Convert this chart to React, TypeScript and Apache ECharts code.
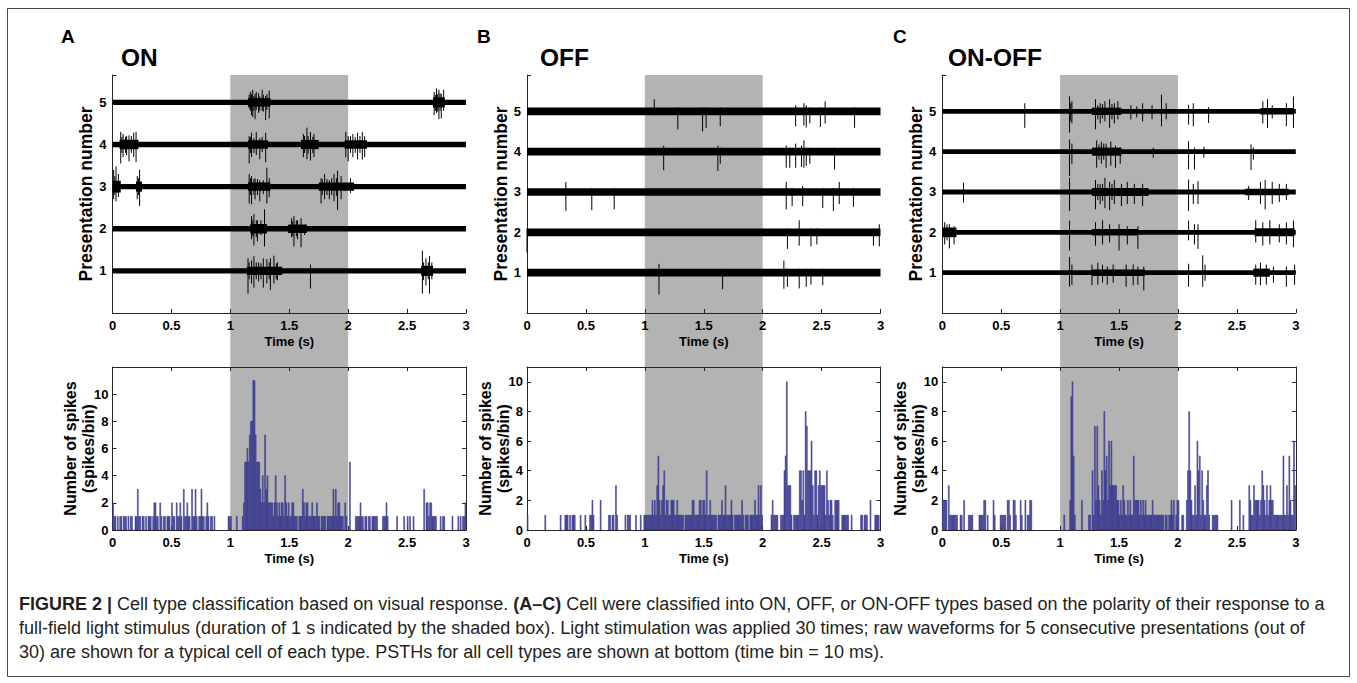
import React, { useEffect, useRef } from "react";
import * as echarts from "echarts";

// ---------- data ----------
const TIME_MAX = 3;
const BIN = 0.01;
const PANEL_LETTERS = ["A", "B", "C"];
const PANEL_TITLES = ["ON", "OFF", "ON-OFF"];
const TOP_YMAX = [5.65, 5.9, 5.9];
const BOT_YMAX = [12, 11, 11];

// PSTH counts, 10 ms bins from 0 to 3 s
const PSTH_ON = [
  2,1,1,0,1,0,1,1,0,1, 1,1,0,1,0,1,1,0,0,1, 1,3,1,1,0,1,1,0,1,0, 1,1,1,0,1,2,2,1,1,0, 2,1,0,1,1,0,1,1,1,0,
  2,1,1,0,2,1,1,2,1,0, 3,1,1,2,1,1,0,3,1,1, 3,1,0,1,1,3,1,1,0,1, 2,1,0,1,1,0,1,0,0,0, 0,0,0,0,0,0,0,0,1,1,
  1,0,0,0,0,1,0,0,0,0, 1,2,5,5,6,5,7,8,8,11, 11,7,5,5,5,3,2,4,2,7, 3,4,2,2,2,2,1,2,4,2, 1,2,1,2,2,1,4,2,1,2,
  1,1,2,2,1,1,1,0,1,1, 1,3,2,1,2,2,1,1,1,2, 1,1,1,2,1,1,0,1,1,1, 1,0,1,1,1,1,1,3,1,3, 1,2,2,1,1,1,0,2,1,0,
  0,5,0,0,0,0,1,1,1,1, 2,1,1,0,1,1,0,1,1,0, 1,1,1,1,1,0,0,0,0,1, 1,1,2,1,0,0,0,0,0,0, 0,1,0,0,0,0,0,1,0,0,
  1,0,1,0,0,1,0,0,0,0, 0,0,0,0,3,0,2,2,1,2, 2,1,1,1,1,0,0,0,1,0, 1,1,0,0,0,0,0,0,1,0, 0,0,0,1,0,1,0,1,1,2,
];
const PSTH_OFF = [
  1,0,0,0,0,0,0,0,0,0, 0,0,0,0,0,1,0,0,0,0, 0,0,0,0,0,0,0,0,1,0, 0,0,1,1,1,0,1,0,1,1, 1,0,0,0,0,1,0,0,0,1,
  0,0,0,1,1,2,1,0,0,0, 0,0,2,0,0,0,0,0,0,1, 1,0,1,1,0,3,1,0,0,0, 0,0,0,1,0,1,1,1,0,0, 0,0,1,0,0,0,1,0,0,1,
  1,1,1,1,1,1,2,1,2,1, 3,5,2,1,2,3,4,1,2,2, 1,1,2,2,2,1,1,2,1,1, 1,1,1,0,1,1,1,1,1,1, 2,2,1,1,1,1,2,2,1,2,
  2,1,4,1,1,2,1,1,1,1, 1,0,1,1,1,2,1,1,3,1, 1,1,1,2,1,0,1,1,1,1, 1,1,2,1,0,1,1,1,0,1, 1,1,1,2,1,1,3,1,3,1,
  0,0,0,0,0,0,0,1,2,1, 1,1,1,0,0,1,1,1,4,5, 10,3,3,3,1,0,1,1,1,1, 1,4,4,2,4,1,8,7,4,4, 4,6,3,1,4,4,1,3,4,3,
  3,3,3,1,4,2,1,2,2,1, 0,2,2,2,2,0,0,1,1,1, 1,1,1,0,0,1,0,0,0,0, 0,0,0,1,1,0,1,1,1,0, 0,2,0,0,0,1,1,1,1,0,
];
const PSTH_ONOFF = [
  2,2,2,2,0,3,1,1,1,1, 1,1,1,0,0,1,1,0,2,0, 0,0,1,1,1,1,0,0,0,0, 0,1,1,1,1,2,2,0,1,0, 0,0,0,2,1,0,0,0,0,1,
  1,1,1,1,0,2,2,1,0,0, 2,2,1,0,0,0,2,1,0,0, 2,0,1,1,2,2,0,0,0,0, 0,0,0,0,0,0,0,0,0,0, 0,0,0,0,0,0,0,0,0,0,
  0,0,0,1,0,0,0,0,2,9, 10,5,1,0,0,0,0,0,2,0, 0,0,0,0,1,1,0,4,1,7, 2,7,3,2,1,4,2,8,4,5, 2,6,3,6,3,3,3,3,2,2,
  1,2,1,3,2,1,1,2,1,2, 1,1,5,2,2,2,2,1,2,1, 2,1,2,1,1,1,1,1,2,1, 1,1,1,1,1,1,1,1,0,1, 1,0,1,1,2,1,2,0,1,2,
  2,0,0,1,1,0,0,2,4,8, 4,2,1,1,3,1,6,4,5,1, 4,2,1,1,3,4,1,0,0,1, 1,1,1,1,0,0,0,0,0,0, 0,0,0,0,0,2,0,0,0,0,
  0,0,2,0,0,1,0,0,0,0, 3,2,1,1,3,2,2,2,2,1, 2,4,3,2,1,3,1,2,3,2, 2,1,1,1,1,1,1,1,1,5, 1,1,3,1,5,2,1,1,6,3,
];

// raw waveforms: baseline half-thickness (presentation units)
const BASE_HALF = [0.065, 0.095, 0.06];
// bursts: [presentation, tStart, tEnd, halfAmplitude]
const BURSTS_ON = [
  [5,1.15,1.34,0.1],[5,2.72,2.82,0.12],
  [4,0.06,0.22,0.11],[4,1.15,1.32,0.1],[4,1.6,1.75,0.11],[4,1.97,2.16,0.1],
  [3,0,0.07,0.14],[3,0.2,0.25,0.12],[3,1.15,1.34,0.1],[3,1.75,2.05,0.1],
  [2,1.17,1.31,0.11],[2,1.49,1.65,0.1],
  [1,1.14,1.44,0.1],[1,2.62,2.72,0.12],
];
const BURSTS_OFF = [];
const BURSTS_ONOFF = [
  [5,1.27,1.52,0.09],[5,2.7,2.98,0.08],
  [4,1.27,1.52,0.1],
  [3,1.27,1.75,0.1],[3,2.57,2.94,0.08],
  [2,0,0.12,0.12],[2,1.27,1.66,0.08],[2,2.65,2.99,0.1],
  [1,1.27,1.72,0.08],[1,2.64,2.78,0.1],
];
// spikes: [presentation, time, up, down]
const SPIKES_ON = [
  [5,1.16,0.18,0.15],[5,1.17,0.25,0.2],[5,1.18,0.2,0.3],[5,1.19,0.3,0.35],[5,1.2,0.15,0.2],[5,1.21,0.2,0.4],[5,1.22,0.25,0.18],[5,1.24,0.22,0.25],[5,1.25,0.14,0.2],[5,1.27,0.3,0.2],[5,1.28,0.18,0.22],[5,1.3,0.15,0.42],[5,1.31,0.2,0.18],[5,1.33,0.28,0.38],
  [5,2.73,0.25,0.3],[5,2.74,0.18,0.2],[5,2.75,0.33,0.25],[5,2.76,0.2,0.22],[5,2.77,0.3,0.4],[5,2.78,0.22,0.2],[5,2.79,0.2,0.38],[5,2.81,0.3,0.2],
  [4,0.07,0.3,0.45],[4,0.08,0.18,0.2],[4,0.09,0.25,0.3],[4,0.11,0.18,0.2],[4,0.12,0.2,0.25],[4,0.14,0.22,0.4],[4,0.16,0.2,0.2],[4,0.18,0.28,0.3],[4,0.2,0.3,0.42],
  [4,1.16,0.2,0.45],[4,1.17,0.18,0.2],[4,1.18,0.28,0.3],[4,1.2,0.15,0.2],[4,1.22,0.3,0.25],[4,1.25,0.15,0.35],[4,1.27,0.18,0.18],[4,1.3,0.28,0.42],
  [4,1.62,0.25,0.3],[4,1.63,0.2,0.2],[4,1.65,0.4,0.35],[4,1.66,0.2,0.22],[4,1.68,0.3,0.38],[4,1.7,0.18,0.2],[4,1.71,0.25,0.3],
  [4,1.98,0.3,0.3],[4,2.0,0.2,0.4],[4,2.02,0.2,0.2],[4,2.04,0.25,0.3],[4,2.06,0.18,0.2],[4,2.08,0.28,0.35],[4,2.1,0.2,0.2],[4,2.12,0.3,0.36],[4,2.14,0.2,0.3],
  [3,0.01,0.4,0.3],[3,0.02,0.25,0.2],[3,0.03,0.48,0.35],[3,0.05,0.3,0.25],[3,0.21,0.25,0.3],[3,0.22,0.2,0.2],[3,0.23,0.4,0.46],
  [3,1.16,0.3,0.4],[3,1.17,0.2,0.2],[3,1.18,0.25,0.42],[3,1.2,0.18,0.2],[3,1.21,0.2,0.3],[3,1.23,0.18,0.2],[3,1.25,0.15,0.35],[3,1.28,0.15,0.18],[3,1.31,0.45,0.4],[3,1.33,0.2,0.25],
  [3,1.77,0.2,0.4],[3,1.78,0.18,0.2],[3,1.8,0.3,0.3],[3,1.82,0.18,0.2],[3,1.84,0.15,0.3],[3,1.86,0.2,0.2],[3,1.88,0.3,0.35],[3,1.9,0.2,0.22],[3,1.91,0.38,0.55],[3,1.94,0.25,0.3],[3,2.02,0.2,0.15],
  [2,1.18,0.3,0.25],[2,1.19,0.2,0.18],[2,1.2,0.35,0.4],[2,1.22,0.2,0.2],[2,1.23,0.2,0.3],[2,1.26,0.2,0.15],[2,1.29,0.46,0.42],
  [2,1.52,0.25,0.2],[2,1.53,0.18,0.18],[2,1.54,0.3,0.42],[2,1.56,0.2,0.18],[2,1.57,0.2,0.25],[2,1.6,0.25,0.44],[2,1.63,0.1,0.15],
  [1,1.15,0.3,0.54],[1,1.16,0.2,0.2],[1,1.18,0.25,0.3],[1,1.2,0.35,0.4],[1,1.22,0.2,0.2],[1,1.24,0.2,0.25],[1,1.26,0.18,0.2],[1,1.28,0.3,0.4],[1,1.31,0.28,0.3],
  [1,1.33,0.2,0.2],[1,1.34,0.3,0.45],[1,1.37,0.36,0.3],[1,1.39,0.18,0.2],[1,1.4,0.2,0.22],[1,1.68,0.15,0.42],
  [1,2.63,0.48,0.54],[1,2.64,0.2,0.22],[1,2.66,0.3,0.35],[1,2.68,0.2,0.2],[1,2.69,0.35,0.54],[1,2.71,0.2,0.2],
];
const SPIKES_OFF = [
  [5,1.08,0.3,0.1],[5,1.28,0.1,0.45],[5,1.49,0.1,0.5],[5,1.52,0.1,0.41],[5,1.64,0.1,0.37],[5,2.28,0.15,0.37],
  [5,2.35,0.2,0.35],[5,2.37,0.15,0.4],[5,2.4,0.1,0.3],[5,2.49,0.1,0.39],[5,2.53,0.25,0.3],[5,2.78,0.1,0.41],
  [4,1.16,0.15,0.46],[4,1.62,0.15,0.48],[4,1.64,0.1,0.3],[4,2.2,0.15,0.4],[4,2.23,0.1,0.4],[4,2.28,0.2,0.4],
  [4,2.33,0.15,0.38],[4,2.35,0.28,0.4],[4,2.37,0.1,0.35],[4,2.4,0.1,0.3],[4,2.61,0.1,0.44],
  [3,0.33,0.25,0.47],[3,0.55,0.1,0.45],[3,0.74,0.1,0.43],[3,2.2,0.25,0.43],[3,2.25,0.1,0.35],[3,2.34,0.15,0.35],
  [3,2.51,0.1,0.4],[3,2.6,0.1,0.47],[3,2.65,0.25,0.3],[3,2.77,0.1,0.37],
  [2,0.0,0.1,0.5],[2,2.21,0.1,0.41],[2,2.31,0.3,0.33],[2,2.41,0.1,0.35],[2,2.46,0.1,0.3],[2,2.94,0.1,0.33],[2,2.99,0.2,0.35],
  [1,1.12,0.22,0.54],[1,1.66,0.1,0.41],[1,2.18,0.3,0.4],[1,2.21,0.1,0.35],[1,2.31,0.1,0.39],[1,2.37,0.1,0.35],
  [1,2.41,0.1,0.3],[1,2.51,0.1,0.31],
];
const SPIKES_ONOFF = [
  [5,0.7,0.2,0.41],[5,1.08,0.37,0.53],[5,1.09,0.2,0.25],[5,1.1,0.25,0.3],[5,1.3,0.3,0.45],[5,1.32,0.15,0.2],[5,1.34,0.2,0.3],[5,1.36,0.18,0.18],[5,1.38,0.25,0.25],
  [5,1.42,0.3,0.41],[5,1.44,0.18,0.2],[5,1.46,0.2,0.3],[5,1.49,0.25,0.2],[5,1.6,0.15,0.2],[5,1.65,0.12,0.15],[5,1.7,0.2,0.25],[5,1.78,0.15,0.2],
  [5,1.86,0.41,0.37],[5,1.9,0.2,0.2],[5,2.09,0.16,0.33],[5,2.13,0.2,0.37],[5,2.26,0.1,0.29],[5,2.72,0.25,0.3],
  [5,2.76,0.3,0.41],[5,2.8,0.15,0.18],[5,2.92,0.2,0.37],[5,2.98,0.37,0.41],
  [4,1.08,0.3,0.6],[4,1.1,0.2,0.3],[4,1.31,0.28,0.4],[4,1.33,0.18,0.2],[4,1.35,0.25,0.3],[4,1.37,0.2,0.2],[4,1.39,0.2,0.4],[4,1.43,0.25,0.35],
  [4,1.47,0.15,0.4],[4,1.51,0.1,0.3],[4,1.79,0.1,0.15],[4,2.09,0.26,0.44],[4,2.14,0.1,0.44],[4,2.22,0.12,0.15],
  [4,2.62,0.18,0.46],[4,2.64,0.1,0.2],
  [3,0.18,0.23,0.26],[3,1.08,0.35,0.47],[3,1.3,0.3,0.43],[3,1.32,0.2,0.2],[3,1.34,0.2,0.3],[3,1.36,0.2,0.22],[3,1.38,0.35,0.4],[3,1.42,0.25,0.45],
  [3,1.44,0.2,0.2],[3,1.46,0.3,0.3],[3,1.52,0.2,0.35],[3,1.57,0.25,0.3],[3,1.63,0.2,0.3],[3,1.7,0.2,0.35],[3,2.09,0.31,0.47],
  [3,2.13,0.2,0.3],[3,2.17,0.27,0.3],[3,2.6,0.15,0.2],[3,2.7,0.25,0.3],[3,2.74,0.3,0.43],[3,2.8,0.25,0.3],
  [3,2.86,0.2,0.25],[3,2.92,0.2,0.2],
  [2,0.02,0.25,0.3],[2,0.04,0.2,0.2],[2,0.06,0.2,0.4],[2,0.1,0.15,0.3],[2,1.08,0.29,0.45],[2,1.3,0.25,0.33],[2,1.36,0.3,0.3],
  [2,1.42,0.2,0.25],[2,1.5,0.2,0.45],[2,1.57,0.15,0.3],[2,1.66,0.15,0.41],[2,2.09,0.29,0.2],[2,2.14,0.2,0.3],
  [2,2.17,0.2,0.41],[2,2.66,0.3,0.25],[2,2.72,0.25,0.33],[2,2.78,0.3,0.3],[2,2.86,0.2,0.25],[2,2.92,0.25,0.3],
  [2,2.98,0.29,0.37],
  [1,1.08,0.39,0.35],[1,1.1,0.2,0.3],[1,1.27,0.2,0.31],[1,1.32,0.25,0.3],[1,1.36,0.2,0.25],[1,1.4,0.15,0.3],
  [1,1.45,0.2,0.25],[1,1.56,0.2,0.35],[1,1.62,0.2,0.31],[1,1.66,0.15,0.3],[1,1.71,0.15,0.44],[1,2.09,0.22,0.35],
  [1,2.21,0.43,0.35],[1,2.23,0.2,0.2],[1,2.66,0.2,0.3],[1,2.7,0.25,0.31],[1,2.75,0.2,0.3],[1,2.81,0.15,0.25],
  [1,2.92,0.15,0.35],[1,2.99,0.2,0.3],
];
const PRESENTATIONS = [1, 2, 3, 4, 5];
const STIM_ON = 1;
const STIM_OFF = 2;

const CAPTION = [
  "{b|FIGURE 2 |} Cell type classification based on visual response. {b|(A–C)} Cell were classified into ON, OFF, or ON-OFF types based on the polarity of their response to a",
  "full-field light stimulus (duration of 1 s indicated by the shaded box). Light stimulation was applied 30 times; raw waveforms for 5 consecutive presentations (out of",
  "30) are shown for a typical cell of each type. PSTHs for all cell types are shown at bottom (time bin = 10 ms).",
];

// ---------- layout ----------
const LEFTS = [112.5, 527, 942.3];
const PW = 353.5;
const TOP_T = 75, TOP_H = 238;
const BOT_T = 367, BOT_H = 163;
const FONT = "'Liberation Sans', Arial, sans-serif";
const AX = "#262626";

const PSTHS = [PSTH_ON, PSTH_OFF, PSTH_ONOFF];
const BURSTS = [BURSTS_ON, BURSTS_OFF, BURSTS_ONOFF];
const SPIKES = [SPIKES_ON, SPIKES_OFF, SPIKES_ONOFF];

function buildOption() {
  const grid: any[] = [];
  const xAxis: any[] = [];
  const yAxis: any[] = [];
  const series: any[] = [];
  const lbl = { color: "#000", fontFamily: FONT, fontWeight: "bold", fontSize: 13 };
  for (let k = 0; k < 3; k++) grid.push({ left: LEFTS[k], top: TOP_T, width: PW, height: TOP_H });
  for (let k = 0; k < 3; k++) grid.push({ left: LEFTS[k], top: BOT_T, width: PW, height: BOT_H });
  const xBase = (gi: number, pos: string, labels: boolean, name: string) => ({
    type: "value", gridIndex: gi, position: pos, min: 0, max: TIME_MAX, interval: 0.5,
    axisLine: { show: true, onZero: false, lineStyle: { color: AX, width: 1 } },
    axisTick: { show: true, inside: true, length: 4, lineStyle: { color: AX } },
    splitLine: { show: false },
    axisLabel: labels ? { ...lbl, margin: 6 } : { show: false },
    name, nameLocation: "middle", nameGap: 22,
    nameTextStyle: { ...lbl, fontSize: 13 },
  });
  for (let k = 0; k < 3; k++) xAxis.push(xBase(k, "bottom", true, "Time (s)"));
  for (let k = 0; k < 3; k++) xAxis.push(xBase(3 + k, "bottom", true, "Time (s)"));
  for (let k = 0; k < 3; k++) xAxis.push(xBase(3 + k, "top", false, ""));

  for (let k = 0; k < 3; k++) {
    yAxis.push({
      type: "value", gridIndex: k, min: 0, max: TOP_YMAX[k], interval: 1,
      axisLine: { show: true, onZero: false, lineStyle: { color: AX, width: 1 } },
      axisTick: { show: true, inside: true, length: 4, lineStyle: { color: AX } },
      splitLine: { show: false },
      axisLabel: { ...lbl, margin: 6, formatter: (v: number) => (PRESENTATIONS.includes(v) ? String(v) : "") },
      name: "Presentation number", nameLocation: "middle", nameRotate: 90, nameGap: 17,
      nameTextStyle: { ...lbl, fontSize: 17.5 },
    });
  }
  for (let k = 0; k < 3; k++) {
    yAxis.push({
      type: "value", gridIndex: 3 + k, min: 0, max: BOT_YMAX[k], interval: 2,
      axisLine: { show: true, onZero: false, lineStyle: { color: AX, width: 1 } },
      axisTick: { show: true, inside: true, length: 4, lineStyle: { color: AX } },
      splitLine: { show: false },
      axisLabel: { ...lbl, margin: 4, formatter: (v: number) => (v <= 10 ? String(v) : "") },
      name: "Number of spikes\n(spikes/bin)", nameLocation: "middle", nameRotate: 90, nameGap: 15,
      nameMoveOverlap: false,
      nameTextStyle: { ...lbl, fontSize: 16, lineHeight: 18 },
    });
  }
  for (let k = 0; k < 3; k++) {
    yAxis.push({
      type: "value", gridIndex: 3 + k, position: "right", min: 0, max: BOT_YMAX[k], interval: 2,
      axisLine: { show: true, onZero: false, lineStyle: { color: AX, width: 1 } },
      axisTick: { show: true, inside: true, length: 4, lineStyle: { color: AX } },
      splitLine: { show: false }, axisLabel: { show: false },
    });
  }

  for (let k = 0; k < 3; k++) {
    const bands = PRESENTATIONS.map((p) => [p, 0, TIME_MAX, BASE_HALF[k]]).concat(BURSTS[k] as any);
    series.push({
      type: "custom", xAxisIndex: k, yAxisIndex: k, z: 3, silent: true,
      data: bands,
      encode: { x: [1, 2], y: 0 },
      renderItem: (_p: any, api: any) => {
        const p = api.value(0), t0 = api.value(1), t1 = api.value(2), h = api.value(3);
        const a = api.coord([t0, p + h]);
        const b = api.coord([t1, p - h]);
        return { type: "rect", shape: { x: a[0], y: a[1], width: b[0] - a[0], height: b[1] - a[1] }, style: { fill: "#000" } };
      },
    });
    series.push({
      type: "custom", xAxisIndex: k, yAxisIndex: k, z: 4, silent: true,
      data: SPIKES[k],
      encode: { x: 1, y: 0 },
      renderItem: (_p: any, api: any) => {
        const p = api.value(0), t = api.value(1), up = api.value(2), dn = api.value(3);
        const a = api.coord([t, p + up]);
        const b = api.coord([t, p - dn]);
        return { type: "line", shape: { x1: a[0], y1: a[1], x2: b[0], y2: b[1] }, style: { stroke: "#000", lineWidth: 1 } };
      },
    });
    series.push({
      type: "custom", xAxisIndex: 3 + k, yAxisIndex: 3 + k, z: 3, silent: true,
      data: PSTHS[k].map((v, i) => [i * BIN, v]).filter((d) => d[1] > 0),
      encode: { x: 0, y: 1 },
      renderItem: (_p: any, api: any) => {
        const t = api.value(0), v = api.value(1);
        const a = api.coord([t, v]);
        const b = api.coord([t + BIN, 0]);
        const w = b[0] - a[0];
        return {
          type: "rect",
          shape: { x: a[0] + w * 0.1, y: a[1], width: w * 0.8, height: b[1] - a[1] },
          style: { fill: "#5a5aad", stroke: "#2a2a7e", lineWidth: 0.5 },
        };
      },
    });
  }
  return { animation: false, grid, xAxis, yAxis, series };
}

export default function App() {
  const ref = useRef<HTMLDivElement>(null);
  useEffect(() => {
    const chart = echarts.init(ref.current!, null, { renderer: "svg" });
    chart.setOption(buildOption());
    const g: any[] = [];
    for (let k = 0; k < 3; k++) {
      const a = chart.convertToPixel({ gridIndex: k }, [STIM_ON, TOP_YMAX[k]]) as number[];
      const b = chart.convertToPixel({ gridIndex: 3 + k }, [STIM_OFF, 0]) as number[];
      g.push({ type: "rect", z: -10, silent: true, shape: { x: a[0], y: a[1], width: b[0] - a[0], height: b[1] - a[1] }, style: { fill: "#b3b3b3" } });
    }
    g.push({ type: "rect", z: -20, silent: true, shape: { x: 7.5, y: 8.5, width: 1342, height: 668 }, style: { fill: "none", stroke: "#4a4a4a", lineWidth: 1 } });
    const letterX = [61, 477, 893];
    const titleX = [121, 540, 948];
    for (let k = 0; k < 3; k++) {
      g.push({ type: "text", x: letterX[k], y: 36, style: { text: PANEL_LETTERS[k], fill: "#000", font: `bold 19px ${FONT}`, verticalAlign: "middle" } });
      g.push({ type: "text", x: titleX[k], y: 57, style: { text: PANEL_TITLES[k], fill: "#000", font: `bold 24.5px ${FONT}`, verticalAlign: "middle" } });
    }
    CAPTION.forEach((line, i) => {
      g.push({
        type: "text", x: 19, y: 604 + i * 24,
        style: {
          text: line, fill: "#231f20", fontFamily: FONT,
          fontSize: 18, verticalAlign: "middle",
          rich: { b: { fontWeight: "bold", fontFamily: FONT, fontSize: 18, fill: "#231f20" } },
        },
      });
    });
    chart.setOption({ graphic: g });
    return () => chart.dispose();
  }, []);
  return <div ref={ref} style={{ position: "fixed", left: 0, top: 0, width: 1357, height: 683, background: "#fff" }} />;
}
